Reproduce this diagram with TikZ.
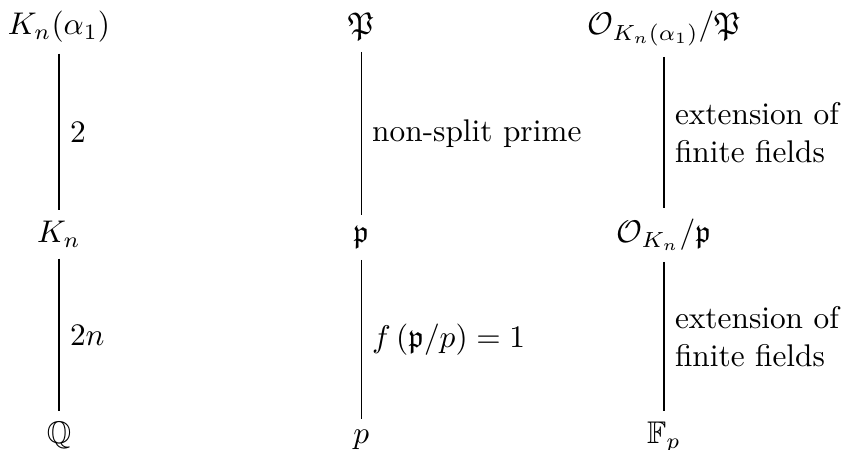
\documentclass[tikz,border=0pt]{standalone}
\usepackage{amsmath,amssymb}

\begin{document}
\begin{tikzpicture}[
  fld/.style={anchor=base},
  lbl/.style={right, align=left},
  ext/.style={-, line width=0.4pt},
]
\useasboundingbox (0,0) rectangle (9.453,5.044);

% fields
\node[fld] (Ka) at (0.661, 4.654) {$K_n(\alpha_1)$};
\node[fld] (Kn) at (0.661, 2.320) {$K_n$};
\node[fld] (Q)  at (0.661, 0.067) {$\mathbb{Q}$};

% primes
\node[fld] (P)  at (4.050, 4.654) {$\mathfrak{P}$};
\node[fld] (pk) at (4.050, 2.320) {$\mathfrak{p}$};
\node[fld] (p)  at (4.050, 0.067) {$p$};

% residue fields
\node[fld] (RP) at (7.445, 4.654) {$\mathcal{O}_{K_n(\alpha_1)}/\mathfrak{P}$};
\node[fld] (Rp) at (7.445, 2.320) {$\mathcal{O}_{K_n}/\mathfrak{p}$};
\node[fld] (Fp) at (7.445, 0.067) {$\mathbb{F}_p$};

\draw[ext] (Ka) -- node[lbl] {$2$} (Kn);
\draw[ext] (Kn) -- node[lbl] {$2n$} (Q);

\draw[ext] (P) -- node[lbl] {non-split prime} (pk);
\draw[ext] (pk) -- node[lbl] {$f\left(\mathfrak{p}/p\right) = 1$} (p);

\draw[ext] (RP) -- node[lbl] {extension of\\finite fields} (Rp);
\draw[ext] (Rp) -- node[lbl] {extension of\\finite fields} (Fp);

\end{tikzpicture}
\end{document}
